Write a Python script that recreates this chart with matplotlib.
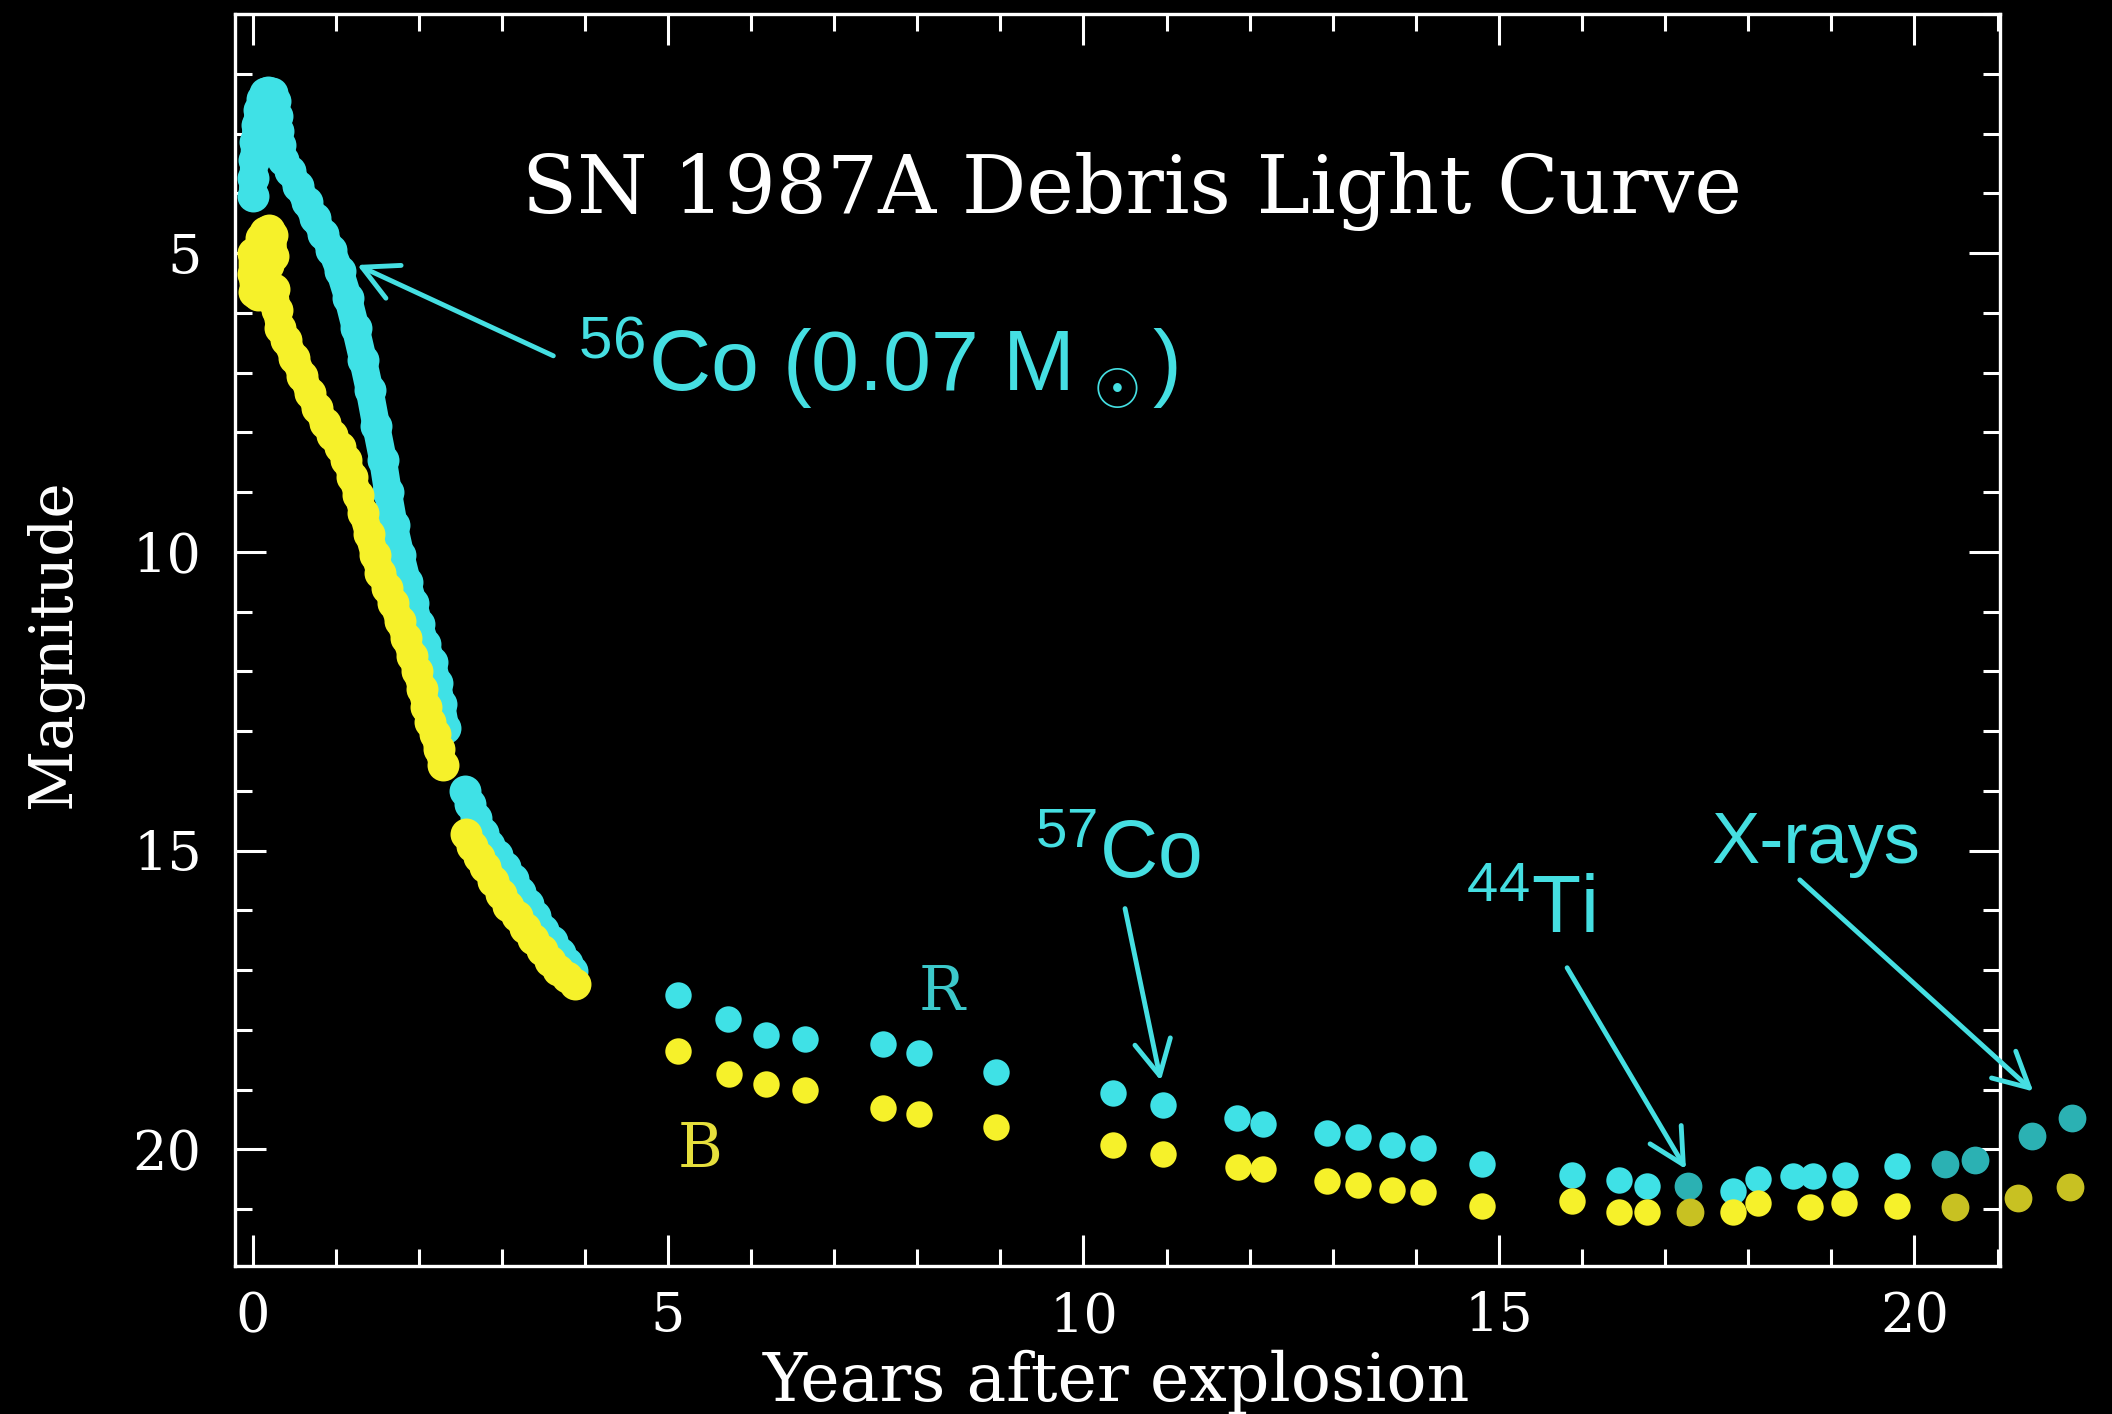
import matplotlib
matplotlib.use("Agg")
import matplotlib.pyplot as plt
from matplotlib.ticker import MultipleLocator

plt.rcParams["mathtext.fontset"] = "custom"
plt.rcParams["mathtext.rm"] = "Liberation Sans"
plt.rcParams["mathtext.it"] = "Liberation Sans:italic"
plt.rcParams["mathtext.bf"] = "Liberation Sans:bold"

# ---- light curve data (years after explosion, magnitude) ----
# R band, dense early photometry (two stretches with a gap between them)
r_early1_years = [0.00, 0.01, 0.02, 0.03, 0.05, 0.08, 0.11, 0.15, 0.19, 0.23, 0.27, 0.29,
                  0.31, 0.33, 0.37, 0.45, 0.55, 0.65, 0.75, 0.85, 0.95, 1.05, 1.15, 1.24,
                  1.33, 1.41, 1.49, 1.57, 1.63, 1.70, 1.78, 1.86, 1.93, 2.00, 2.08, 2.16,
                  2.22, 2.27, 2.32]
r_early1_mag = [4.05, 3.75, 3.45, 3.15, 2.85, 2.60, 2.42, 2.33, 2.30, 2.32, 2.45, 2.70,
                2.95, 3.20, 3.45, 3.62, 3.88, 4.15, 4.42, 4.68, 4.95, 5.30, 5.75, 6.25,
                6.79, 7.30, 7.90, 8.46, 9.00, 9.55, 10.05, 10.50, 10.85, 11.20, 11.55, 11.85,
                12.20, 12.55, 12.94]
r_early2_years = [2.56, 2.62, 2.69, 2.77, 2.85, 2.94, 3.04, 3.13, 3.22, 3.31, 3.40, 3.50,
                  3.60, 3.70, 3.78, 3.84]
r_early2_mag = [14.00, 14.22, 14.45, 14.70, 14.90, 15.08, 15.27, 15.48, 15.70, 15.90, 16.10,
                16.32, 16.52, 16.72, 16.88, 17.02]

# B band, dense early photometry
b_early1_years = [0.00, 0.00, 0.02, 0.07, 0.09, 0.06, 0.10, 0.15, 0.20, 0.24, 0.25, 0.19,
                  0.16, 0.21, 0.26, 0.29, 0.33, 0.40, 0.50, 0.60, 0.69, 0.78, 0.87, 0.96,
                  1.05, 1.13, 1.20, 1.27, 1.33, 1.40, 1.47, 1.54, 1.62, 1.69, 1.77, 1.85,
                  1.92, 1.98, 2.04, 2.09, 2.14, 2.19, 2.24, 2.29]
b_early1_mag = [5.00, 5.35, 5.65, 5.70, 5.35, 5.00, 4.75, 4.65, 4.62, 4.70, 5.05, 5.20,
                5.50, 5.75, 5.60, 5.95, 6.25, 6.45, 6.75, 7.05, 7.35, 7.60, 7.85, 8.05,
                8.25, 8.46, 8.75, 9.05, 9.35, 9.70, 10.05, 10.35, 10.60, 10.85, 11.15, 11.45,
                11.75, 12.00, 12.30, 12.60, 12.85, 13.05, 13.30, 13.56]
b_early2_years = [2.57, 2.64, 2.72, 2.80, 2.90, 2.99, 3.08, 3.18, 3.28, 3.38, 3.48, 3.58,
                  3.68, 3.78, 3.88]
b_early2_mag = [14.72, 14.92, 15.10, 15.27, 15.50, 15.72, 15.92, 16.10, 16.30, 16.48, 16.66,
                16.85, 17.00, 17.12, 17.24]

# Late-time epochs
r_late_years = [5.12, 5.72, 6.18, 6.65, 7.59, 8.02, 8.95, 10.36, 10.96, 11.85, 12.16, 12.93,
                13.30, 13.71, 14.09, 14.79, 15.88, 16.45, 16.78, 17.82, 18.12, 18.54, 18.78,
                19.16, 19.79]
r_late_mag = [17.41, 17.81, 18.09, 18.16, 18.24, 18.39, 18.70, 19.05, 19.25, 19.47, 19.57,
              19.72, 19.80, 19.92, 19.98, 20.25, 20.42, 20.52, 20.62, 20.70, 20.50, 20.45,
              20.45, 20.42, 20.28]
b_late_years = [5.12, 5.74, 6.18, 6.65, 7.59, 8.02, 8.95, 10.36, 10.96, 11.86, 12.16, 12.93,
                13.30, 13.71, 14.09, 14.79, 15.88, 16.45, 16.78, 17.82, 18.12, 18.74, 19.15,
                19.79]
b_late_mag = [18.36, 18.73, 18.91, 19.01, 19.30, 19.41, 19.63, 19.92, 20.08, 20.30, 20.33,
              20.53, 20.60, 20.68, 20.72, 20.94, 20.87, 21.04, 21.04, 21.04, 20.89, 20.97,
              20.89, 20.95]

# Later additions shown in dimmer tones
r_dim_years = [17.27, 20.37, 20.73, 21.41, 21.89]
r_dim_mag = [20.62, 20.25, 20.17, 19.77, 19.48]
b_dim_years = [17.30, 20.49, 21.24, 21.87]
b_dim_mag = [21.05, 20.97, 20.82, 20.63]

x_major = [0, 5, 10, 15, 20]
y_major = [5, 10, 15, 20]

CYAN = "#3fe1e6"
YELLOW = "#f6f12a"
CYAN_DIM = "#2bb1b3"
YELLOW_DIM = "#c8c122"
TXT_CYAN = "#45dfe2"

fig = plt.figure(figsize=(21.12, 14.14), dpi=100, facecolor="black")
ax = fig.add_axes([0.1113, 0.1047, 0.8357, 0.8854], facecolor="black")

# early dense light curves: thick round-cap strokes with dots along them
for t, m, c in [(r_early1_years, r_early1_mag, CYAN), (r_early2_years, r_early2_mag, CYAN),
                (b_early1_years, b_early1_mag, YELLOW), (b_early2_years, b_early2_mag, YELLOW)]:
    ax.plot(t, m, color=c, lw=20, solid_capstyle="round", solid_joinstyle="round",
            marker="o", ms=23, mec="none", zorder=3)

# late epochs
ax.plot(r_late_years, r_late_mag, "o", color=CYAN, ms=19, mec="none", zorder=3)
ax.plot(b_late_years, b_late_mag, "o", color=YELLOW, ms=19, mec="none", zorder=3)
ax.plot(r_dim_years, r_dim_mag, "o", color=CYAN_DIM, ms=20, mec="none", zorder=3,
        clip_on=False)
ax.plot(b_dim_years, b_dim_mag, "o", color=YELLOW_DIM, ms=20, mec="none", zorder=3,
        clip_on=False)

ax.set_xlim(-0.21, 21.03)
ax.set_ylim(21.95, 1.0)

# frame and ticks
for sp in ax.spines.values():
    sp.set_color("white")
    sp.set_linewidth(2.4)
ax.xaxis.set_major_locator(MultipleLocator(5))
ax.xaxis.set_minor_locator(MultipleLocator(1))
ax.yaxis.set_major_locator(MultipleLocator(5))
ax.yaxis.set_minor_locator(MultipleLocator(1))
ax.set_xticks(x_major)
ax.set_yticks(y_major)
ax.tick_params(which="both", direction="in", top=True, right=True, colors="white")
ax.tick_params(which="major", length=22, width=2.2)
ax.tick_params(which="minor", length=12, width=2.2)
ax.tick_params(axis="x", which="major", pad=18)
ax.tick_params(axis="y", which="major", pad=24)
for lab in ax.get_xticklabels() + ax.get_yticklabels():
    lab.set_fontfamily("DejaVu Serif")
    lab.set_fontsize(39)
    lab.set_color("white")

# titles
ax.text(0.508, 0.841, "SN 1987A Debris Light Curve", transform=ax.transAxes,
        ha="center", va="baseline", color="white", fontsize=58, family="DejaVu Serif")
fig.text(54 / 2112, 1 - 644 / 1414, "Magnitude", rotation=90, ha="center", va="center",
         color="white", fontsize=43, family="DejaVu Serif")
fig.text(1116 / 2112, 1 - 1401 / 1414, "Years after explosion", ha="center", va="baseline",
         color="white", fontsize=48, family="DejaVu Serif")

# band labels
ax.text(8.01, 17.66, "R", color="#3cc9cb", fontsize=44, family="DejaVu Serif",
        ha="left", va="baseline")
ax.text(5.12, 20.30, "B", color="#e6df3c", fontsize=44, family="DejaVu Serif",
        ha="left", va="baseline")

# annotations with arrows
arrow_kw = dict(arrowstyle="->,head_length=2.5,head_width=1.3", color=TXT_CYAN, lw=3.5,
                shrinkA=0, shrinkB=0, mutation_scale=10)

ax.text(3.92, 7.29, r"$^{56}$Co (0.07 M$_{\,\odot}$)", color=TXT_CYAN, fontsize=62,
        family="Liberation Sans", ha="left", va="baseline")
ax.annotate("", xy=(1.26, 5.20), xytext=(3.62, 6.72), arrowprops=arrow_kw)

ax.text(9.42, 15.45, r"$^{57}$Co", color=TXT_CYAN, fontsize=58,
        family="Liberation Sans", ha="left", va="baseline")
ax.annotate("", xy=(10.93, 18.85), xytext=(10.50, 15.97), arrowprops=arrow_kw)

ax.text(14.60, 16.36, r"$^{44}$Ti", color=TXT_CYAN, fontsize=58,
        family="Liberation Sans", ha="left", va="baseline")
ax.annotate("", xy=(17.25, 20.33), xytext=(15.82, 16.96), arrowprops=arrow_kw)

ax.text(17.56, 15.20, "X-rays", color=TXT_CYAN, fontsize=52,
        family="Liberation Sans", ha="left", va="baseline")
ax.annotate("", xy=(21.43, 19.03), xytext=(18.62, 15.49), arrowprops=arrow_kw,
            annotation_clip=False)

fig.savefig("out.png", dpi=100, facecolor="black")
